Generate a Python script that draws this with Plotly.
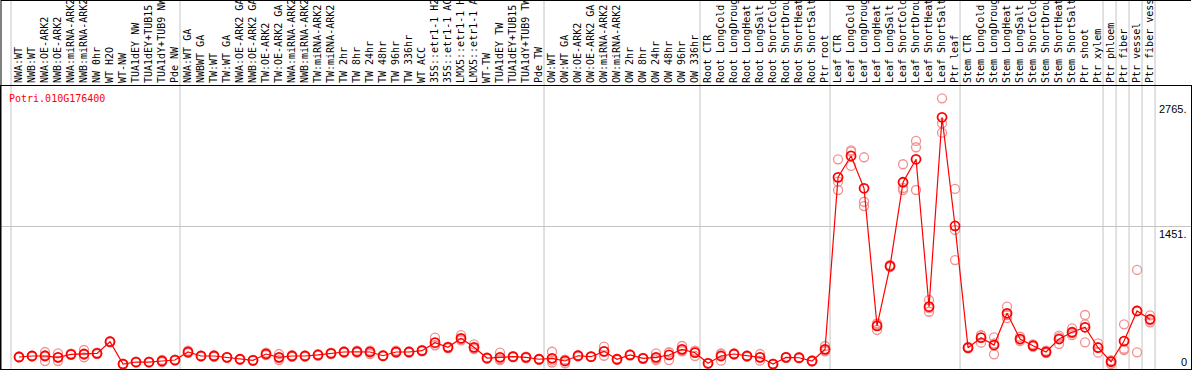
import plotly.graph_objects as go

categories = [
    "NWA:WT", "NWB:WT", "NWA:OE-ARK2", "NWB:OE-ARK2", "NWA:miRNA-ARK2", "NWB:miRNA-ARK2",
    "NW 0hr", "WT H2O", "WT-NW", "TUA1dEY NW", "TUA1dEY+TUB15 NW", "TUA1dY+TUB9 NW", "Pde NW",
    "NWA:WT GA", "NWBWT GA", "TW:WT", "TW:WT GA", "NWA:OE-ARK2 GA", "NWB:OE-ARK2 GA",
    "TW:OE-ARK2", "TW:OE-ARK2 GA", "NWA:miRNA-ARK2 GA", "NWB:miRNA-ARK2 GA", "TW:miRNA-ARK2",
    "TW:miRNA-ARK2 GA", "TW 2hr", "TW 8hr", "TW 24hr", "TW 48hr", "TW 96hr", "TW 336hr", "WT ACC",
    "35S::etr1-1 H2O", "35S::etr1-1 ACC", "LMX5::etr1-1 H2O", "LMX5::etr1-1 ACC", "WT-TW",
    "TUA1dEY TW", "TUA1dEY+TUB15 TW", "TUA1dY+TUB9 TW", "Pde TW",
    "OW:WT", "OW:WT GA", "OW:OE-ARK2", "OW:OE-ARK2 GA", "OW:miRNA-ARK2", "OW:miRNA-ARK2 GA",
    "OW 2hr", "OW 8hr", "OW 24hr", "OW 48hr", "OW 96hr", "OW 336hr",
    "Root CTR", "Root LongCold", "Root LongDrought", "Root LongHeat", "Root LongSalt",
    "Root ShortCold", "Root ShortDrought", "Root ShortHeat", "Root ShortSalt", "Ptr root",
    "Leaf CTR", "Leaf LongCold", "Leaf LongDrought", "Leaf LongHeat", "Leaf LongSalt",
    "Leaf ShortCold", "Leaf ShortDrought", "Leaf ShortHeat", "Leaf ShortSalt", "Ptr leaf",
    "Stem CTR", "Stem LongCold", "Stem LongDrought", "Stem LongHeat", "Stem LongSalt",
    "Stem ShortCold", "Stem ShortDrought", "Stem ShortHeat", "Stem ShortSalt", "Ptr shoot",
    "Ptr xylem", "Ptr phloem", "Ptr fiber", "Ptr vessel", "Ptr fiber vessel",
]

mean_values = [
    79, 89, 89, 75, 107, 110, 117, 239, 5, 26, 26, 37, 47,
    131, 89, 89, 75, 55, 44, 110, 75, 89, 89, 100, 117, 131, 134, 131, 92, 131, 131, 145,
    229, 180, 275, 180, 68, 75, 82, 75, 55,
    65, 37, 92, 82, 138, 55, 100, 65, 75, 100, 159, 124,
    13, 89, 110, 89, 75, 5, 75, 71, 37, 159,
    1962, 2186, 1847, 404, 1032, 1910, 2151, 606, 2591, 1452,
    176, 281, 204, 537, 267, 197, 131, 267, 338, 390, 176,
    29, 246, 561, 474,
]

rep_a = [
    75, 86, 131, 117, 100, 152, 110, 232, 0, 22, 22, 26, 42,
    145, 86, 80, 72, 52, 40, 124, 110, 80, 82, 92, 110, 124, 145, 138, 88, 145, 124, 138,
    281, 187, 309, 212, 62, 124, 76, 68, 50,
    134, 13, 86, 78, 187, 50, 94, 60, 117, 47, 194, 89,
    8, 40, 104, 84, 110, 0, 70, 66, 32, 194,
    2151, 2231, 2172, 362, 1020, 2099, 2343, 676, 2790, 1840,
    170, 309, 285, 606, 291, 212, 145, 302, 379, 519, 222,
    5, 421, 991, 516,
]

rep_b = [
    84, 92, 37, 37, 114, 75, 124, 246, 10, 30, 30, 48, 52,
    120, 92, 98, 78, 58, 48, 98, 47, 98, 96, 108, 124, 138, 124, 110, 96, 124, 138, 152,
    204, 170, 262, 166, 74, 55, 88, 82, 60,
    40, 48, 98, 86, 92, 60, 106, 70, 47, 124, 145, 145,
    18, 110, 116, 94, 40, 10, 80, 76, 42, 145,
    1916, 2081, 1706, 420, 1045, 1829, 2277, 553, 2528, 1410,
    185, 229, 107, 519, 246, 185, 120, 215, 327, 421, 124,
    40, 152, 128, 442,
]

rep_c = [
    79, 89, 99, 72, 107, 103, 117, 239, 5, 26, 26, 37, 47,
    128, 89, 89, 75, 55, 44, 108, 68, 89, 89, 100, 117, 131, 133, 145, 92, 124, 131, 145,
    202, 183, 254, 162, 68, 46, 82, 75, 55,
    21, 50, 92, 82, 135, 55, 100, 65, 61, 129, 138, 138,
    13, 117, 110, 89, 75, 5, 75, 71, 37, 138,
    1829, 2245, 1661, 430, 1032, 1850, 1829, 590, 2430, 1095,
    172, 305, 220, 486, 264, 194, 128, 284, 308, 233, 182,
    42, 165, 564, 464,
]

group_bounds = [-0.5, 12.5, 40.5, 52.5, 62.5, 72.5, 83.5, 84.5, 85.5, 86.5, 87.5]
y_ticks = [2765, 1451, 0]
y_tick_text = ["2765.", "1451.", "0"]
title_text = "Potri.010G176400"

x_idx = list(range(len(categories)))

RED = "#ff0000"
PINK = "#f29090"
GRAY = "#c4c4c4"
MONO = "DejaVu Sans Mono"

fig = go.Figure()

for reps in (rep_a, rep_b, rep_c):
    fig.add_trace(go.Scatter(
        x=x_idx, y=reps, mode="markers", hoverinfo="skip", showlegend=False,
        marker=dict(symbol="circle-open", size=9, color=PINK, line=dict(width=1.3, color=PINK)),
    ))

fig.add_trace(go.Scatter(
    x=x_idx, y=mean_values, mode="lines+markers", showlegend=False,
    line=dict(color=RED, width=1.2),
    marker=dict(symbol="circle-open", size=9, color=RED, line=dict(width=1.8, color=RED)),
))

H_PLOT = 283.0
T_MARGIN = 86.0
top_paper = 1 + T_MARGIN / H_PLOT

shapes = []
for b in group_bounds:
    shapes.append(dict(
        type="line", xref="x", yref="paper", xsizemode="pixel", xanchor=b,
        x0=-1.5, x1=-1.5, y0=0, y1=top_paper,
        line=dict(color=GRAY, width=1), layer="below",
    ))
# header top border and left border
shapes.append(dict(type="line", xref="paper", yref="paper", x0=0, x1=1,
                   y0=1 + 85.5 / H_PLOT, y1=1 + 85.5 / H_PLOT,
                   line=dict(color="black", width=1)))
shapes.append(dict(type="line", xref="paper", yref="paper", x0=0, x1=0,
                   y0=0, y1=top_paper, line=dict(color="black", width=1)))

annotations = [dict(
    text=title_text, xref="paper", yref="paper", x=0, y=1, xanchor="left", yanchor="top",
    xshift=6, yshift=-5, showarrow=False, font=dict(family=MONO, size=10, color=RED),
)]
for v, t in zip(y_ticks, y_tick_text):
    annotations.append(dict(
        text=t, xref="paper", yref="y", x=1, y=v, xanchor="right",
        yanchor="bottom" if v == 0 else "top", xshift=-2, yshift=-5 if v == 0 else 0,
        showarrow=False, font=dict(family="Liberation Sans", size=11, color="black"),
    ))

fig.update_layout(
    width=1194, height=370,
    margin=dict(l=1, r=3, t=86, b=1, pad=0),
    plot_bgcolor="white", paper_bgcolor="white",
    showlegend=False,
    shapes=shapes, annotations=annotations,
    xaxis=dict(
        range=[-1.385, 90.15], tickvals=x_idx, ticktext=categories, side="top",
        tickangle=-90, tickfont=dict(family=MONO, size=10, color="black"),
        showgrid=False, zeroline=False, showline=True, linecolor="black", linewidth=1,
        mirror=True, ticks="", automargin=False,
    ),
    yaxis=dict(
        range=[-47, 2919], tickvals=[1451], showticklabels=False, showgrid=True,
        gridcolor=GRAY, gridwidth=1, zeroline=False, showline=True, linecolor="black",
        linewidth=1, mirror=True, ticks="", automargin=False,
    ),
)

fig.write_html("out.html", config={"displayModeBar": False},
               post_script="document.body.style.margin='0px';")
